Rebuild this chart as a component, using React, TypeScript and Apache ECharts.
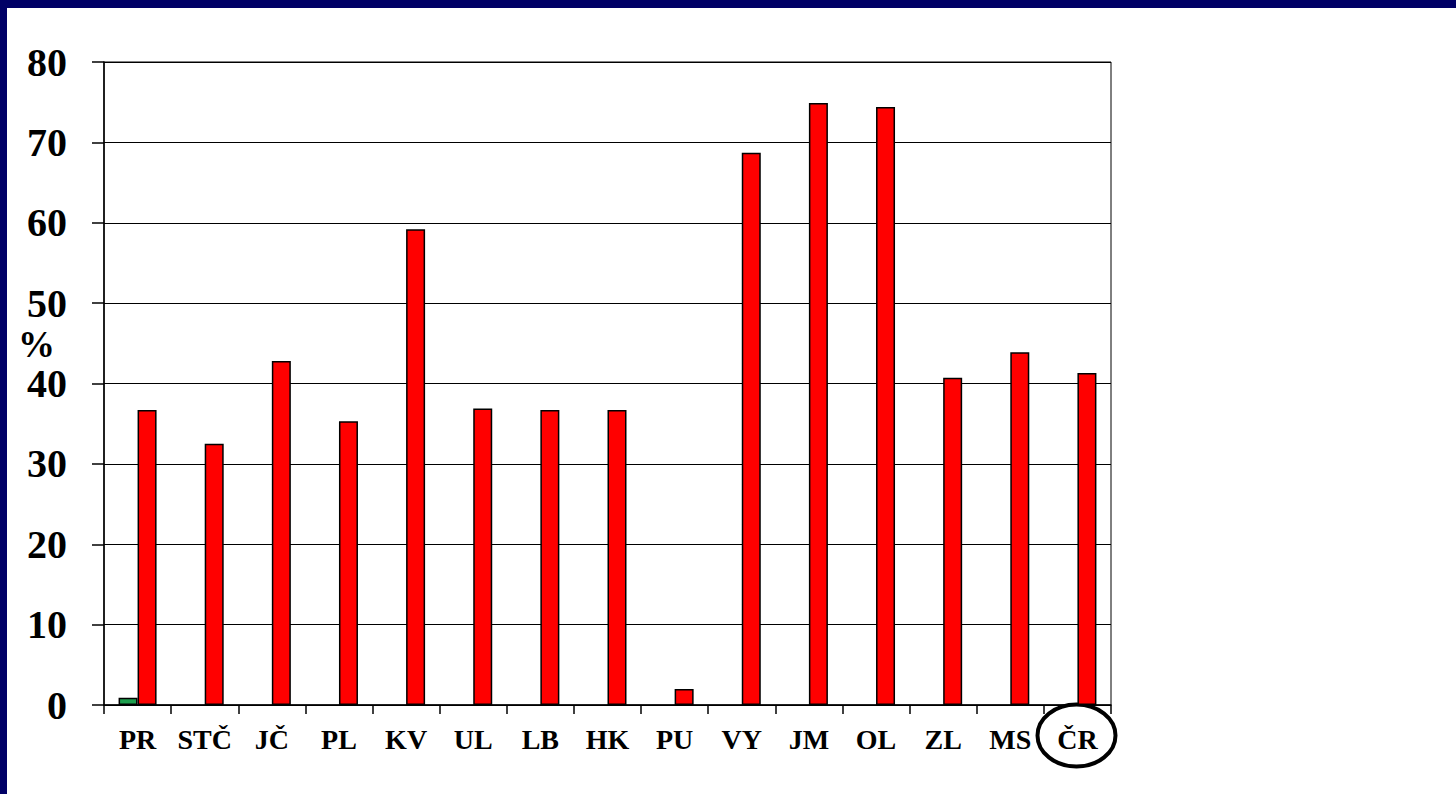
import React, { useEffect, useRef } from "react";
import * as echarts from "echarts";

const categories = ["PR", "STČ", "JČ", "PL", "KV", "UL", "LB", "HK", "PU", "VY", "JM", "OL", "ZL", "MS", "ČR"];
const greenValues: (number | null)[] = [0.9, null, null, null, null, null, null, null, null, null, null, null, null, null, null];
const redValues: number[] = [36.7, 32.5, 42.8, 35.3, 59.2, 36.9, 36.7, 36.7, 2.0, 68.7, 74.9, 74.4, 40.7, 43.9, 41.3];
const yTicks = [0, 10, 20, 30, 40, 50, 60, 70, 80];

const FONT = "'Liberation Serif', 'Times New Roman', serif";

export default function App() {
  const ref = useRef<HTMLDivElement>(null);
  useEffect(() => {
    if (!ref.current) return;
    const chart = echarts.init(ref.current, undefined, { renderer: "svg" });
    chart.setOption({
      animation: false,
      backgroundColor: "#ffffff",
      grid: {
        left: 104,
        top: 62,
        right: 345,
        bottom: 89,
        show: true,
        borderColor: "#000",
        borderWidth: 1,
        backgroundColor: "transparent",
      },
      xAxis: {
        type: "category",
        data: categories,
        axisLine: { lineStyle: { color: "#000", width: 1.5 } },
        axisTick: { show: true, length: 9, lineStyle: { color: "#000", width: 1.5 } },
        axisLabel: {
          color: "#000",
          fontFamily: FONT,
          fontWeight: "bold",
          fontSize: 28,
          margin: 20,
          interval: 0,
        },
      },
      yAxis: {
        type: "value",
        min: yTicks[0],
        max: yTicks[yTicks.length - 1],
        interval: 10,
        axisLine: { show: true, lineStyle: { color: "#000", width: 1.5 } },
        axisTick: { show: true, inside: false, length: 12, lineStyle: { color: "#000", width: 1.5 } },
        splitLine: { show: true, lineStyle: { color: "#000", width: 1 } },
        axisLabel: {
          color: "#000",
          fontFamily: FONT,
          fontWeight: "bold",
          fontSize: 40,
          lineHeight: 32,
          margin: 37,
        },
      },
      series: [
        {
          type: "bar",
          data: greenValues,
          barWidth: 19,
          barGap: "0%",
          itemStyle: { color: "#1E9E4E", borderColor: "#000", borderWidth: 1.5 },
        },
        {
          type: "bar",
          data: redValues,
          barWidth: 19,
          barGap: "0%",
          itemStyle: { color: "#FF0000", borderColor: "#000", borderWidth: 1.5 },
        },
      ],
      graphic: [
        { type: "rect", shape: { x: 0, y: 0, width: 1456, height: 8 }, style: { fill: "#000066" } },
        { type: "rect", shape: { x: 0, y: 0, width: 7, height: 794 }, style: { fill: "#000066" } },
        {
          type: "text",
          x: 18,
          y: 344,
          style: {
            text: "%",
            fill: "#000",
            font: `bold 37px ${FONT}`,
            lineHeight: 26,
            verticalAlign: "middle",
            align: "left",
          },
        },
        {
          type: "ellipse",
          shape: { cx: 1076.5, cy: 735.5, rx: 39, ry: 31 },
          style: { fill: "none", stroke: "#000", lineWidth: 4 },
        },
      ],
    });
    return () => chart.dispose();
  }, []);
  return (
    <div
      ref={ref}
      style={{ position: "absolute", left: 0, top: 0, width: 1456, height: 794 }}
    />
  );
}
